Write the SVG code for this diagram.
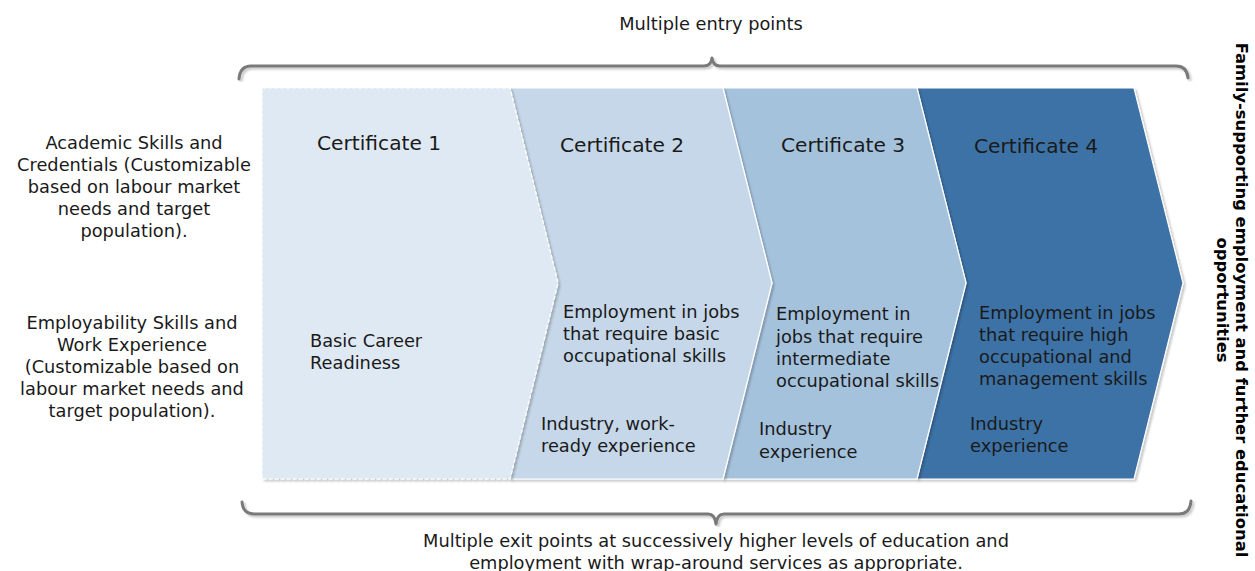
<svg xmlns="http://www.w3.org/2000/svg" width="1255" height="571" viewBox="0 0 1255 571">
<style>
text{font-family:"DejaVu Sans","Liberation Sans",sans-serif;fill:#1a1a1a;}
.side{font-size:17.8px;text-anchor:middle;}
.cert{font-size:20.2px;}
.body{font-size:17.8px;}
.cap{font-size:17.8px;text-anchor:middle;}
.right{font-size:16.4px;font-weight:bold;text-anchor:middle;fill:#000;}
.chev{stroke:#ffffff;stroke-width:1.2;filter:url(#sh);}
.brace{fill:none;stroke:#7a7a7a;stroke-width:3;stroke-linecap:round;stroke-linejoin:round;filter:url(#sh);}
</style>
<defs>
<filter id="sh" x="-5%" y="-5%" width="115%" height="115%">
<feDropShadow dx="2" dy="2" stdDeviation="1" flood-color="#000" flood-opacity="0.22"/>
</filter>
</defs>
<text class="cap" x="711" y="30">Multiple entry points</text>
<g id="connectors">
<path class="brace" d="M239,79 Q240,66 251,66 L704,66 Q711,66 712,58 Q713,66 720,66 L1176,66 Q1187,66 1188,78"/>
<path class="brace" d="M242,502 Q243,514 254,514 L708,514 Q715,514 716,524 Q717,514 724,514 L1179,514 Q1190,514 1191,501"/>
</g>
<g id="cert4">
<polygon class="chev" fill="#3e72a6" points="917,88 1134,88 1183,283 1134,479 917,479 966,283"/>
<text class="cert" x="974" y="153">Certificate 4</text>
<text class="body" x="979" y="319">Employment in jobs</text>
<text class="body" x="979" y="341">that require high</text>
<text class="body" x="979" y="363">occupational and</text>
<text class="body" x="979" y="385">management skills</text>
<text class="body" x="970" y="430">Industry</text>
<text class="body" x="970" y="452">experience</text>
</g>
<g id="cert3">
<polygon class="chev" fill="#a5c2dd" points="723,88 917,88 966,283 917,479 723,479 772,283"/>
<text class="cert" x="781" y="152">Certificate 3</text>
<text class="body" x="776" y="320">Employment in</text>
<text class="body" x="776" y="343">jobs that require</text>
<text class="body" x="776" y="365">intermediate</text>
<text class="body" x="776" y="387">occupational skills</text>
<text class="body" x="759" y="435">Industry</text>
<text class="body" x="759" y="458">experience</text>
</g>
<g id="cert2">
<polygon class="chev" fill="#c5d7e8" points="510,88 723,88 772,283 723,479 510,479 558,283"/>
<text class="cert" x="560" y="152">Certificate 2</text>
<text class="body" x="563" y="318">Employment in jobs</text>
<text class="body" x="563" y="340">that require basic</text>
<text class="body" x="563" y="362">occupational skills</text>
<text class="body" x="541" y="430">Industry, work-</text>
<text class="body" x="541" y="452">ready experience</text>
</g>
<g id="cert1">
<polygon class="chev" fill="#dfe9f3" stroke-dasharray="4,2" points="262,88 510,88 558,283 510,479 262,479"/>
<text class="cert" x="317" y="150">Certificate 1</text>
<text class="body" x="310" y="347">Basic Career</text>
<text class="body" x="310" y="369">Readiness</text>
</g>
<g id="academic">
<text class="side" x="134" y="149">Academic Skills and</text>
<text class="side" x="134" y="171">Credentials (Customizable</text>
<text class="side" x="134" y="193">based on labour market</text>
<text class="side" x="134" y="215">needs and target</text>
<text class="side" x="134" y="237">population).</text>
</g>
<g id="employability">
<text class="side" x="132" y="329">Employability Skills and</text>
<text class="side" x="132" y="351">Work Experience</text>
<text class="side" x="132" y="373">(Customizable based on</text>
<text class="side" x="132" y="395">labour market needs and</text>
<text class="side" x="132" y="417">target population).</text>
</g>
<g id="exit">
<text class="cap" x="716" y="547">Multiple exit points at successively higher levels of education and</text>
<text class="cap" x="716" y="569">employment with wrap-around services as appropriate.</text>
</g>
<g id="outcome">
<text class="right" transform="translate(1236,300) rotate(90)">Family-supporting employment and further educational</text>
<text class="right" transform="translate(1217,300) rotate(90)">opportunities</text>
</g>
</svg>
